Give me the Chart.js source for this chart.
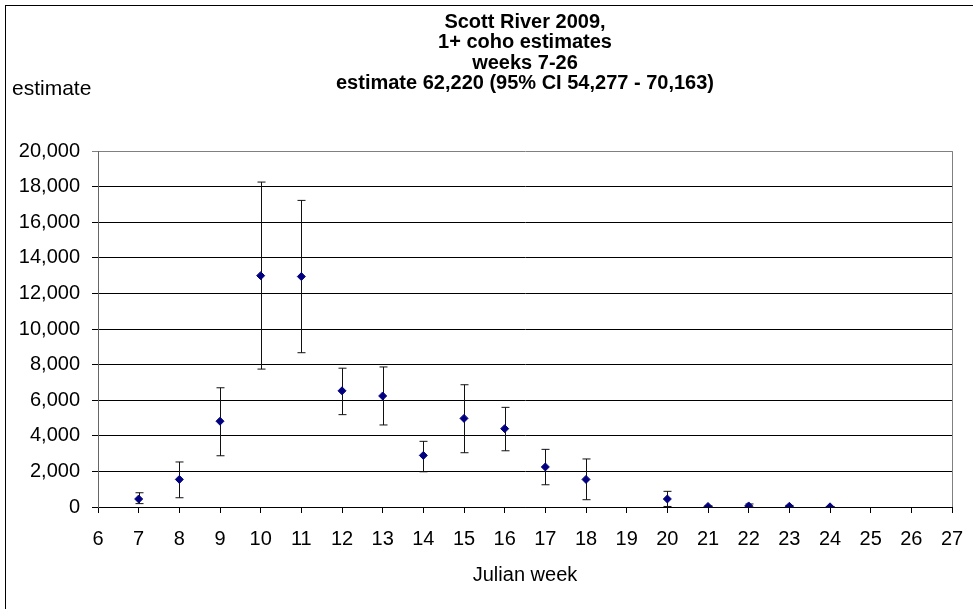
<!DOCTYPE html>
<html>
<head>
<meta charset="utf-8">
<title>Scott River 2009 1+ coho estimates</title>
<script src="https://cdn.jsdelivr.net/npm/chart.js@4.4.1/dist/chart.umd.min.js"></script>
<style>
  html, body { margin: 0; padding: 0; background: #fff; overflow: hidden; }
  #frame {
    position: absolute; left: 5px; top: 5px;
    width: 1030px; height: 640px;
    border: 1px solid #000;
    background: #fff;
  }
</style>
</head>
<body>
<div id="frame"><canvas id="coho-chart"></canvas></div>
<script>
// Julian week of each trap estimate (no estimate for week 19, 25, 26)
var weeks     = [7, 8, 9, 10, 11, 12, 13, 14, 15, 16, 17, 18, 20, 21, 22, 23, 24];
var estimates = [450, 1550, 4820, 13000, 12950, 6530, 6240, 2900, 4980, 4400, 2250, 1550, 450, 30, 60, 40, 10];
// 95% confidence limits
var lowerCI   = [190, 520, 2880, 7750, 8670, 5190, 4610, 1980, 3050, 3160, 1250, 410, 30, 0, 0, 0, 0];
var upperCI   = [800, 2530, 6700, 18260, 17230, 7800, 7870, 3690, 6870, 5600, 3240, 2700, 880, 60, 170, 90, 20];

var titleLines = ['Scott River 2009,', '1+ coho estimates', 'weeks 7-26', 'estimate 62,220 (95% CI 54,277 - 70,163)'];
var yLabel = 'estimate';
var xLabel = 'Julian week';

var FONT = "'Liberation Sans', Arial, sans-serif";

var points = [];
for (var i = 0; i < weeks.length; i++) {
  points.push({ x: weeks[i], y: estimates[i] });
}

// whiskers with caps, drawn under the markers
var errorBars = {
  id: 'errorBars',
  beforeDatasetsDraw: function (chart) {
    var ctx = chart.ctx;
    var xs = chart.scales.x, ys = chart.scales.y;
    ctx.save();
    ctx.strokeStyle = '#111';
    ctx.lineWidth = 1;
    for (var i = 0; i < weeks.length; i++) {
      var px = Math.round(xs.getPixelForValue(weeks[i])) + 0.5;
      var top = ys.getPixelForValue(upperCI[i]);
      var bot = ys.getPixelForValue(lowerCI[i]);
      ctx.beginPath();
      ctx.moveTo(px, top);
      ctx.lineTo(px, bot);
      ctx.moveTo(px - 4, top);
      ctx.lineTo(px + 4, top);
      ctx.moveTo(px - 4, bot);
      ctx.lineTo(px + 4, bot);
      ctx.stroke();
    }
    ctx.restore();
  }
};

// plot frame (grey right edge) and the horizontal "estimate" label
var extras = {
  id: 'extras',
  beforeDraw: function (chart) {
    var a = chart.chartArea, ctx = chart.ctx;
    ctx.save();
    ctx.strokeStyle = '#808080';
    ctx.lineWidth = 1;
    ctx.beginPath();
    ctx.moveTo(Math.round(a.right) + 0.5, a.top);
    ctx.lineTo(Math.round(a.right) + 0.5, a.bottom);
    ctx.stroke();
    ctx.fillStyle = '#000';
    ctx.font = '21px ' + FONT;
    ctx.textBaseline = 'middle';
    ctx.textAlign = 'left';
    ctx.fillText(yLabel, 6, 83);
    ctx.restore();
  }
};

new Chart('coho-chart', {
  type: 'scatter',
  data: {
    datasets: [{
      data: points,
      pointStyle: 'rectRot',
      pointRadius: 4,
      pointHoverRadius: 4,
      backgroundColor: '#000080',
      borderColor: '#000080',
      borderWidth: 1
    }]
  },
  options: {
    responsive: true,
    maintainAspectRatio: false,
    animation: false,
    layout: { padding: { top: 0, right: 84, bottom: 59, left: 0 } },
    plugins: {
      legend: { display: false },
      tooltip: { enabled: false },
      title: {
        display: true,
        fullSize: false,
        text: titleLines,
        color: '#000',
        font: { family: FONT, size: 20, weight: 'bold', lineHeight: 1.02 },
        padding: { top: 6, bottom: 57.5 }
      }
    },
    scales: {
      x: {
        type: 'linear',
        min: 6,
        max: 27,
        afterFit: function (s) { s.height = 80; },
        ticks: { stepSize: 1, color: '#000', padding: 14, font: { family: FONT, size: 20 } },
        grid: { display: true, drawOnChartArea: false, drawTicks: true, tickLength: 6, color: '#000' },
        border: { display: true, color: '#000', width: 1 },
        title: {
          display: true,
          text: xLabel,
          color: '#000',
          font: { family: FONT, size: 20 },
          padding: { top: 1, bottom: 0 }
        }
      },
      y: {
        min: 0,
        max: 20000,
        afterFit: function (s) { s.width = 92; },
        ticks: {
          stepSize: 2000,
          color: '#000',
          padding: 12,
          font: { family: FONT, size: 20 },
          callback: function (v) { return v.toLocaleString('en-US'); }
        },
        grid: {
          drawTicks: true,
          tickLength: 6,
          color: function (c) { return c.tick && c.tick.value === 20000 ? '#808080' : '#000'; }
        },
        border: { display: true, color: '#666', width: 1 }
      }
    }
  },
  plugins: [errorBars, extras]
});
</script>
</body>
</html>
